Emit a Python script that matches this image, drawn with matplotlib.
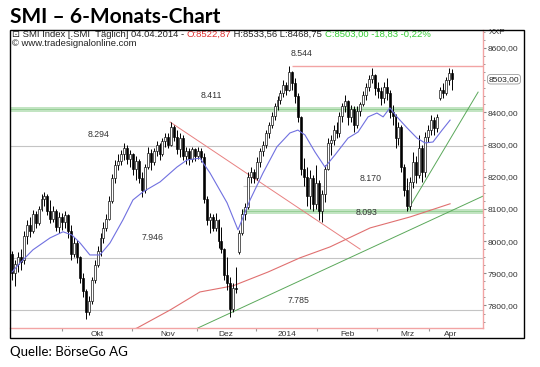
import matplotlib
matplotlib.use("Agg")
import matplotlib.pyplot as plt
from matplotlib.patches import Rectangle
from matplotlib.ticker import FixedLocator, MultipleLocator, FuncFormatter

opens = [
    7960, 7900, 7930, 7950, 7940, 8015, 8050, 8030, 8085, 8055,
    8100, 8130, 8140, 8095, 8070, 8095, 8045, 8075, 8060, 8080,
    8030, 7960, 7995, 7950, 7885, 7845, 7780, 7815, 7880, 7925,
    7970, 8010, 8040, 8070, 8125, 8195, 8235, 8250, 8270, 8290,
    8255, 8270, 8225, 8250, 8195, 8160, 8230, 8275, 8245, 8280,
    8300, 8270, 8310, 8325, 8300, 8355, 8325, 8285, 8320, 8265,
    8280, 8255, 8285, 8265, 8280, 8262, 8130, 8065, 8075, 8040,
    8065, 8000, 7975, 7895, 7870, 7790, 7855, 7965, 8025, 8085,
    8105, 8200, 8215, 8195, 8245, 8280, 8300, 8335, 8360, 8390,
    8420, 8440, 8460, 8485, 8470, 8525, 8490, 8450, 8385, 8225,
    8200, 8140, 8195, 8115, 8180, 8095, 8145, 8225, 8305, 8315,
    8345, 8335, 8390, 8420, 8435, 8385, 8410, 8360, 8405, 8425,
    8455, 8480, 8505, 8515, 8475, 8465, 8445, 8480, 8460, 8400,
    8390, 8320, 8355, 8230, 8160, 8110, 8185, 8245, 8205, 8290,
    8215, 8325, 8345, 8375, 8350, 8445, 8470, 8460, 8500, 8522.87,
]
highs = [
    7970, 7940, 7965, 7975, 8030, 8066, 8075, 8097, 8095, 8110,
    8145, 8152, 8145, 8128, 8110, 8100, 8090, 8088, 8095, 8085,
    8050, 8013, 8005, 7955, 7900, 7850, 7830, 7890, 7940, 7985,
    8025, 8060, 8085, 8140, 8210, 8252, 8270, 8283, 8305, 8300,
    8283, 8274, 8265, 8255, 8215, 8240, 8293, 8285, 8290, 8310,
    8305, 8320, 8336, 8335, 8370, 8360, 8345, 8335, 8330, 8293,
    8290, 8293, 8290, 8293, 8290, 8274, 8140, 8088, 8085, 8088,
    8070, 8044, 7980, 7950, 7889, 7870, 7920, 8035, 8100, 8119,
    8215, 8230, 8225, 8260, 8290, 8310, 8345, 8370, 8400, 8429,
    8450, 8470, 8500, 8495, 8544, 8530, 8507, 8460, 8390, 8258,
    8230, 8220, 8205, 8236, 8190, 8160, 8236, 8320, 8330, 8360,
    8370, 8400, 8430, 8454, 8440, 8423, 8420, 8420, 8432, 8465,
    8490, 8516, 8538, 8520, 8494, 8480, 8494, 8507, 8470, 8423,
    8395, 8370, 8360, 8240, 8196, 8200, 8277, 8265, 8330, 8300,
    8339, 8360, 8392, 8385, 8395, 8480, 8490, 8510, 8538, 8533.56,
]
lows = [
    7880, 7860, 7905, 7910, 7930, 7990, 8013, 8025, 8040, 8050,
    8095, 8110, 8080, 8057, 8060, 8030, 8025, 8035, 8040, 8010,
    7940, 7950, 7932, 7870, 7827, 7758, 7770, 7805, 7870, 7920,
    7955, 7995, 8030, 8066, 8119, 8181, 8221, 8235, 8252, 8240,
    8230, 8205, 8190, 8180, 8137, 8150, 8225, 8220, 8235, 8265,
    8252, 8265, 8293, 8290, 8295, 8310, 8270, 8260, 8252, 8240,
    8237, 8245, 8250, 8255, 8245, 8119, 8050, 8025, 8030, 8030,
    7980, 7963, 7880, 7848, 7764, 7780, 7839, 7960, 8020, 8066,
    8100, 8181, 8181, 8190, 8230, 8265, 8290, 8320, 8350, 8375,
    8407, 8425, 8448, 8455, 8465, 8470, 8430, 8370, 8205, 8170,
    8110, 8100, 8093, 8100, 8065, 8060, 8122, 8220, 8268, 8300,
    8320, 8325, 8370, 8400, 8361, 8370, 8339, 8350, 8390, 8420,
    8440, 8465, 8490, 8455, 8445, 8423, 8430, 8440, 8382, 8360,
    8290, 8300, 8214, 8140, 8093, 8097, 8165, 8180, 8196, 8184,
    8200, 8308, 8330, 8330, 8340, 8440, 8445, 8455, 8485, 8468.75,
]
closes = [
    7900, 7930, 7950, 7935, 8015, 8050, 8030, 8085, 8055, 8100,
    8130, 8140, 8095, 8070, 8095, 8045, 8075, 8060, 8080, 8030,
    7960, 7995, 7950, 7885, 7845, 7780, 7815, 7880, 7925, 7970,
    8010, 8040, 8070, 8125, 8195, 8235, 8250, 8270, 8290, 8255,
    8270, 8225, 8250, 8195, 8160, 8230, 8275, 8245, 8280, 8300,
    8270, 8310, 8325, 8300, 8355, 8325, 8285, 8320, 8265, 8280,
    8255, 8285, 8265, 8280, 8262, 8130, 8065, 8075, 8040, 8065,
    8000, 7975, 7895, 7870, 7790, 7855, 7850, 8025, 8085, 8105,
    8200, 8215, 8195, 8245, 8280, 8300, 8335, 8360, 8390, 8420,
    8440, 8460, 8485, 8470, 8525, 8490, 8450, 8385, 8225, 8200,
    8140, 8195, 8115, 8180, 8095, 8145, 8225, 8305, 8315, 8345,
    8335, 8390, 8420, 8435, 8385, 8410, 8360, 8405, 8425, 8455,
    8480, 8505, 8515, 8475, 8465, 8445, 8480, 8460, 8400, 8390,
    8320, 8355, 8230, 8160, 8110, 8185, 8245, 8205, 8290, 8215,
    8325, 8345, 8375, 8350, 8385, 8470, 8460, 8500, 8522, 8503.00,
]

# gleitende Durchschnitte (blau: kurz, rot: 200 Tage)
ma_short_x = [0, 2.7, 7.1, 12.9, 17.3, 20.3, 23.1, 26.4, 29.8, 33.2, 37.6, 41.0, 44.4,
              50.2, 55.9, 59.3, 63.7, 67.1, 72.9, 76.6, 80.7, 85.1, 89.8, 94.2, 96.9,
              99.3, 102.7, 106.1, 109.5, 113.9, 117.3, 120.7, 123.7, 125.8, 128.1,
              130.5, 133.9, 137.3, 140.0, 142.7, 145.8, 148.5]
ma_short_y = [7904, 7932, 7973, 8010, 8029, 8019, 7994, 7957, 7957, 7994, 8066, 8128, 8153,
              8184, 8230, 8252, 8258, 8212, 8119, 8035, 8128, 8212, 8293, 8336, 8345,
              8330, 8277, 8230, 8268, 8320, 8339, 8386, 8398, 8386, 8414,
              8386, 8352, 8320, 8305, 8308, 8345, 8376]
ma_long_x = [38.0, 42.4, 53.6, 63.7, 74.9, 86.8, 97.6, 107.8, 121.4, 134.9, 148.5]
ma_long_y = [7715, 7730, 7786, 7842, 7861, 7904, 7948, 7982, 8041, 8075, 8116]

# Trendlinien
trend_red_x = [53.6, 118.0]
trend_red_y = [8370, 7975]
trend_green_x = [63.0, 159.7]
trend_green_y = [7730, 8140]
trend_steep_x = [134.2, 158.0]
trend_steep_y = [8097, 8463]

# horizontale Marken
levels_gray = [8294, 7946, 7785]
level_8170 = 8170
level_band = [8411, 8093]
level_high = 8544
level_labels = ["8.544", "8.411", "8.294", "8.170", "8.093", "7.946", "7.785"]
level_label_x = [98.3, 67.5, 29.2, 121.4, 120.3, 47.8, 97.0]
level_label_y = [8584, 8454, 8330, 8196, 8088, 8010, 7814]

month_ticks = [16.9, 40.7, 62.7, 82.7, 103.4, 123.7, 141.4]
month_label_x = [28.8, 52.9, 72.5, 93.2, 113.9, 133.9, 148.8]
month_labels = ["Okt", "Nov", "Dez", "2014", "Feb", "Mrz", "Apr"]
price_ticks = [7800, 7900, 8000, 8100, 8200, 8300, 8400, 8600]

W, H = 540, 367
fig = plt.figure(figsize=(W / 100, H / 100), dpi=100)
fig.patch.set_facecolor("white")

ax = fig.add_axes([10 / W, (H - 328) / H, 473 / W, 298 / H])
ax.set_xlim(-0.68, 159.66)
ax.set_ylim(7730, 8656)

pink = "#f2a4a4"
gray_line = "#c4c4c4"
xmin, xmax = ax.get_xlim()

# Linien
for lv in levels_gray:
    ax.hlines(lv, xmin, xmax, color=gray_line, lw=0.8, zorder=1)
ax.hlines(level_8170, 78.3, xmax, color=gray_line, lw=0.8, zorder=1)
ax.hlines(level_band[0], xmin, xmax, color="#c2e4c2", lw=3.6, zorder=1)
ax.hlines(level_band[0], xmin, xmax, color="#8fcc8f", lw=0.6, zorder=1)
ax.hlines(level_band[1], 78.0, xmax, color="#c2e4c2", lw=3.6, zorder=1)
ax.hlines(level_band[1], 78.0, xmax, color="#8fcc8f", lw=0.6, zorder=1)
ax.hlines(level_high, 95.0, xmax, color=pink, lw=1.0, zorder=1)

ax.plot(trend_red_x, trend_red_y, color="#e88080", lw=0.7, zorder=2)
ax.plot(trend_green_x, trend_green_y, color="#5aa85a", lw=0.7, zorder=2)
ax.plot(trend_steep_x, trend_steep_y, color="#5aa85a", lw=0.7, zorder=2)
ax.plot(ma_long_x, ma_long_y, color="#e07070", lw=0.8, zorder=2)
ax.plot(ma_short_x, ma_short_y, color="#7070e0", lw=0.8, zorder=4)

# Kerzen
xs = list(range(len(closes)))
ax.vlines(xs, lows, highs, color="black", lw=0.7, zorder=3)
bodies = [max(abs(c - o), 2) for o, c in zip(opens, closes)]
bottoms = [min(o, c) for o, c in zip(opens, closes)]
faces = ["white" if c >= o else "black" for o, c in zip(opens, closes)]
ax.bar(xs, bodies, bottom=bottoms, width=0.66, color=faces,
       edgecolor="black", linewidth=0.45, zorder=3)

for txt, lx, ly in zip(level_labels, level_label_x, level_label_y):
    ax.text(lx, ly, txt, fontsize=6.3, color="#333333", ha="center", va="center",
            family="Liberation Sans", zorder=5)

# Achsen
for s in ["top", "left"]:
    ax.spines[s].set_visible(False)
ax.spines["right"].set_color(pink)
ax.spines["bottom"].set_color(pink)
ax.spines["right"].set_linewidth(1.0)
ax.spines["bottom"].set_linewidth(1.0)

ax.yaxis.tick_right()
ax.yaxis.set_major_locator(FixedLocator(price_ticks))
ax.yaxis.set_minor_locator(MultipleLocator(25))
ax.yaxis.set_major_formatter(FuncFormatter(lambda v, p: f"{v:.2f}".replace(".", ",")))
ax.tick_params(axis="y", which="major", length=2.5, color="#888888", labelsize=6,
               labelcolor="#333333", pad=1)
ax.tick_params(axis="y", which="minor", length=1.2, color="#888888")

ax.xaxis.set_major_locator(FixedLocator(month_ticks))
ax.xaxis.set_minor_locator(FixedLocator(month_label_x))
ax.xaxis.set_major_formatter(FuncFormatter(lambda v, p: ""))
ax.set_xticklabels(month_labels, minor=True)
ax.tick_params(axis="x", which="major", length=2, color="#999999")
ax.tick_params(axis="x", which="minor", length=0, labelsize=6, labelcolor="#333333", pad=2)
for lab in ax.get_yticklabels() + ax.get_xticklabels(minor=True):
    lab.set_family("Liberation Sans")

# Kopfzeile mit farbigen Teilen
hdr = dict(fontsize=6.8, family=["Liberation Sans", "DejaVu Sans"])
t = ax.text(0.004, 0.970, "\u22a1 SMI Index [.SMI  Täglich] 04.04.2014 - ",
            transform=ax.transAxes, va="bottom", color="#222222", **hdr)
t = ax.annotate("O:8522,87", xy=(1, 0), xycoords=t, va="bottom", color="#e03030", **hdr)
t = ax.annotate(" H:8533,56 L:8468,75 ", xy=(1, 0), xycoords=t, va="bottom",
                color="#222222", **hdr)
t = ax.annotate("C:8503,00 -18,83 -0,22%", xy=(1, 0), xycoords=t, va="bottom",
                color="#33cc33", **hdr)
ax.text(0.004, 0.938, "\u00a9 www.tradesignalonline.com", transform=ax.transAxes,
        va="bottom", color="#222222", **hdr)

trans = ax.get_yaxis_transform()
ax.text(1.012, closes[-1], f"{closes[-1]:.2f}".replace(".", ","), transform=trans,
        fontsize=6, family="Liberation Sans", va="center", ha="left", color="#222222",
        bbox=dict(boxstyle="round,pad=0.15,rounding_size=0.4", fc="white", ec="#999999", lw=0.6),
        zorder=6)
ax.text(1.012, 0.99, "XXP", transform=ax.transAxes, fontsize=6, family="Liberation Sans",
        va="center", ha="left", color="#333333")

# Rahmen, Titel, Quelle
fig.add_artist(Rectangle((10 / W, (H - 338) / H), 514 / W, 308 / H, transform=fig.transFigure,
                         fill=False, edgecolor="black", lw=1.0))
fig.text(10 / W, 1 - 17 / H, "SMI \u2013 6-Monats-Chart", fontsize=15, fontweight="bold",
         family="Lato", va="center", ha="left", color="black")
fig.text(10 / W, 1 - 352 / H, "Quelle: BörseGo AG", fontsize=9.5, family="Lato",
         va="center", ha="left", color="black")

fig.savefig("out.png", dpi=100)
